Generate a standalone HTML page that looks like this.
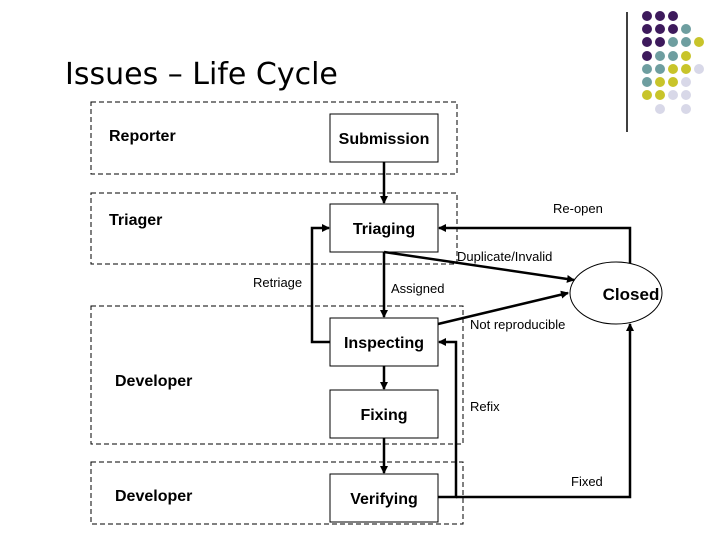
<!DOCTYPE html>
<html><head><meta charset="utf-8"><style>
body{margin:0;background:#fff;width:720px;height:540px;overflow:hidden}
svg text{font-family:"Liberation Sans",Arial,sans-serif}
</style></head><body>
<svg width="720" height="540" viewBox="0 0 720 540" xmlns="http://www.w3.org/2000/svg">
<defs><marker id="a" markerWidth="8" markerHeight="8" refX="7" refY="4" orient="auto" markerUnits="userSpaceOnUse"><path d="M0,0 L8,4 L0,8z" fill="#000"/></marker></defs>
<text x="65" y="84" font-size="30" style="font-family:'DejaVu Sans',sans-serif">Issues – Life Cycle</text>
<line x1="627" y1="12" x2="627" y2="132" stroke="#000" stroke-width="1.5"/>
<g>
<circle cx="647" cy="16" r="5" fill="#3d1a5c"/><circle cx="660" cy="16" r="5" fill="#3d1a5c"/><circle cx="673" cy="16" r="5" fill="#3d1a5c"/>
<circle cx="647" cy="29" r="5" fill="#3d1a5c"/><circle cx="660" cy="29" r="5" fill="#3d1a5c"/><circle cx="673" cy="29" r="5" fill="#3d1a5c"/><circle cx="686" cy="29" r="5" fill="#6e9ea0"/>
<circle cx="647" cy="42" r="5" fill="#3d1a5c"/><circle cx="660" cy="42" r="5" fill="#3d1a5c"/><circle cx="673" cy="42" r="5" fill="#6e9ea0"/><circle cx="686" cy="42" r="5" fill="#6e9ea0"/><circle cx="699" cy="42" r="5" fill="#c8c42a"/>
<circle cx="647" cy="56" r="5" fill="#3d1a5c"/><circle cx="660" cy="56" r="5" fill="#6e9ea0"/><circle cx="673" cy="56" r="5" fill="#6e9ea0"/><circle cx="686" cy="56" r="5" fill="#c8c42a"/>
<circle cx="647" cy="69" r="5" fill="#6e9ea0"/><circle cx="660" cy="69" r="5" fill="#6e9ea0"/><circle cx="673" cy="69" r="5" fill="#c8c42a"/><circle cx="686" cy="69" r="5" fill="#c8c42a"/><circle cx="699" cy="69" r="5" fill="#d8d8e8"/>
<circle cx="647" cy="82" r="5" fill="#6e9ea0"/><circle cx="660" cy="82" r="5" fill="#c8c42a"/><circle cx="673" cy="82" r="5" fill="#c8c42a"/><circle cx="686" cy="82" r="5" fill="#d8d8e8"/>
<circle cx="647" cy="95" r="5" fill="#c8c42a"/><circle cx="660" cy="95" r="5" fill="#c8c42a"/><circle cx="673" cy="95" r="5" fill="#d8d8e8"/><circle cx="686" cy="95" r="5" fill="#d8d8e8"/>
<circle cx="660" cy="109" r="5" fill="#d8d8e8"/><circle cx="686" cy="109" r="5" fill="#d8d8e8"/>
</g>
<g fill="none" stroke="#000" stroke-width="1" stroke-dasharray="5,3">
<rect x="91" y="102" width="366" height="72"/>
<rect x="91" y="193" width="366" height="71"/>
<rect x="91" y="306" width="372" height="138"/>
<rect x="91" y="462" width="372" height="62"/>
</g>
<g fill="#fff" stroke="#000" stroke-width="1">
<rect x="330" y="114" width="108" height="48"/>
<rect x="330" y="204" width="108" height="48"/>
<rect x="330" y="318" width="108" height="48"/>
<rect x="330" y="390" width="108" height="48"/>
<rect x="330" y="474" width="108" height="48"/>
<ellipse cx="616" cy="293" rx="46" ry="31"/>
</g>
<g fill="none" stroke="#000" stroke-width="2.5">
<line x1="384" y1="162" x2="384" y2="203" marker-end="url(#a)"/>
<line x1="384" y1="252" x2="384" y2="317" marker-end="url(#a)"/>
<line x1="384" y1="366" x2="384" y2="389" marker-end="url(#a)"/>
<line x1="384" y1="438" x2="384" y2="473" marker-end="url(#a)"/>
<polyline points="630,263 630,228 439,228" marker-end="url(#a)"/>
<line x1="384" y1="252" x2="574" y2="280" marker-end="url(#a)"/>
<line x1="438" y1="324" x2="568" y2="293" marker-end="url(#a)"/>
<polyline points="330,342 312,342 312,228 329,228" marker-end="url(#a)"/>
<polyline points="438,497 456,497 456,342 439,342" marker-end="url(#a)"/>
<polyline points="456,497 630,497 630,324" marker-end="url(#a)"/>
</g>
<g font-size="16" font-weight="bold">
<text x="384" y="144" text-anchor="middle">Submission</text>
<text x="384" y="234" text-anchor="middle">Triaging</text>
<text x="384" y="348" text-anchor="middle">Inspecting</text>
<text x="384" y="420" text-anchor="middle">Fixing</text>
<text x="384" y="504" text-anchor="middle">Verifying</text>
<text x="631" y="300" text-anchor="middle" font-size="17">Closed</text>
</g>
<g font-size="16" font-weight="bold">
<text x="109" y="141">Reporter</text>
<text x="109" y="225">Triager</text>
<text x="115" y="386">Developer</text>
<text x="115" y="501">Developer</text>
</g>
<g font-size="13">
<text x="553" y="213">Re-open</text>
<text x="457" y="261">Duplicate/Invalid</text>
<text x="253" y="287">Retriage</text>
<text x="391" y="293">Assigned</text>
<text x="470" y="329">Not reproducible</text>
<text x="470" y="411">Refix</text>
<text x="571" y="486">Fixed</text>
</g>
</svg>
</body></html>
